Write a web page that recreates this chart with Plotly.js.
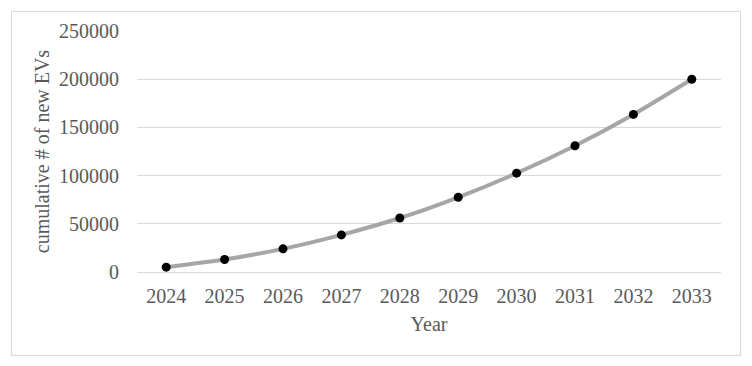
<!DOCTYPE html>
<html>
<head>
<meta charset="utf-8">
<script src="https://cdn.plot.ly/plotly-3.0.1.min.js"></script>
<style>
  body { margin: 0; background: #fff; }
  #frame { position: absolute; left: 11px; top: 11px; width: 728px; height: 343px; border: 1px solid #d9d9d9; }
  #myDiv { position: absolute; left: 0; top: 0; width: 752px; height: 366px; }
</style>
</head>
<body>
<div id="frame"></div>
<div id="myDiv"></div>
<script>
// years on the x axis
let years = ["2024", "2025", "2026", "2027", "2028", "2029", "2030", "2031", "2032", "2033"];
// cumulative number of new EVs
let cumulativeEVs = [5000, 13000, 24000, 38500, 56000, 77500, 102500, 131000, 163500, 200000];
let yTicks = [0, 50000, 100000, 150000, 200000, 250000];

var trace1 = {
  x: years,
  y: cumulativeEVs,
  mode: 'lines+markers',
  type: 'scatter',
  line: {shape: 'spline', smoothing: 0.6, color: '#a6a6a6', width: 4},
  marker: {color: '#000000', size: 9}
};

var layout = {
  width: 752,
  height: 366,
  margin: {l: 137, r: 31, t: 31, b: 94},
  paper_bgcolor: 'rgba(0,0,0,0)',
  plot_bgcolor: 'rgba(0,0,0,0)',
  font: {family: 'Liberation Serif, Times New Roman, serif', size: 20, color: '#595959'},
  showlegend: false,
  xaxis: {
    type: 'category',
    range: [-0.5, 9.5],
    showgrid: false,
    showline: false,
    zeroline: false,
    ticklabelstandoff: 10,
    title: {text: 'Year', font: {size: 20, color: '#595959'}, standoff: 10}
  },
  yaxis: {
    range: [0, 250000],
    tickvals: yTicks,
    ticktext: yTicks.map(String),
    showgrid: true,
    gridcolor: '#d9d9d9',
    gridwidth: 1,
    zeroline: true,
    zerolinecolor: '#d9d9d9',
    zerolinewidth: 1,
    showline: false,
    ticklabelstandoff: 17,
    title: {text: 'cumulative # of new EVs', font: {size: 20, color: '#595959'}, standoff: 4}
  }
};

Plotly.newPlot('myDiv', [trace1], layout, {displayModeBar: false, staticPlot: true});
</script>
</body>
</html>
